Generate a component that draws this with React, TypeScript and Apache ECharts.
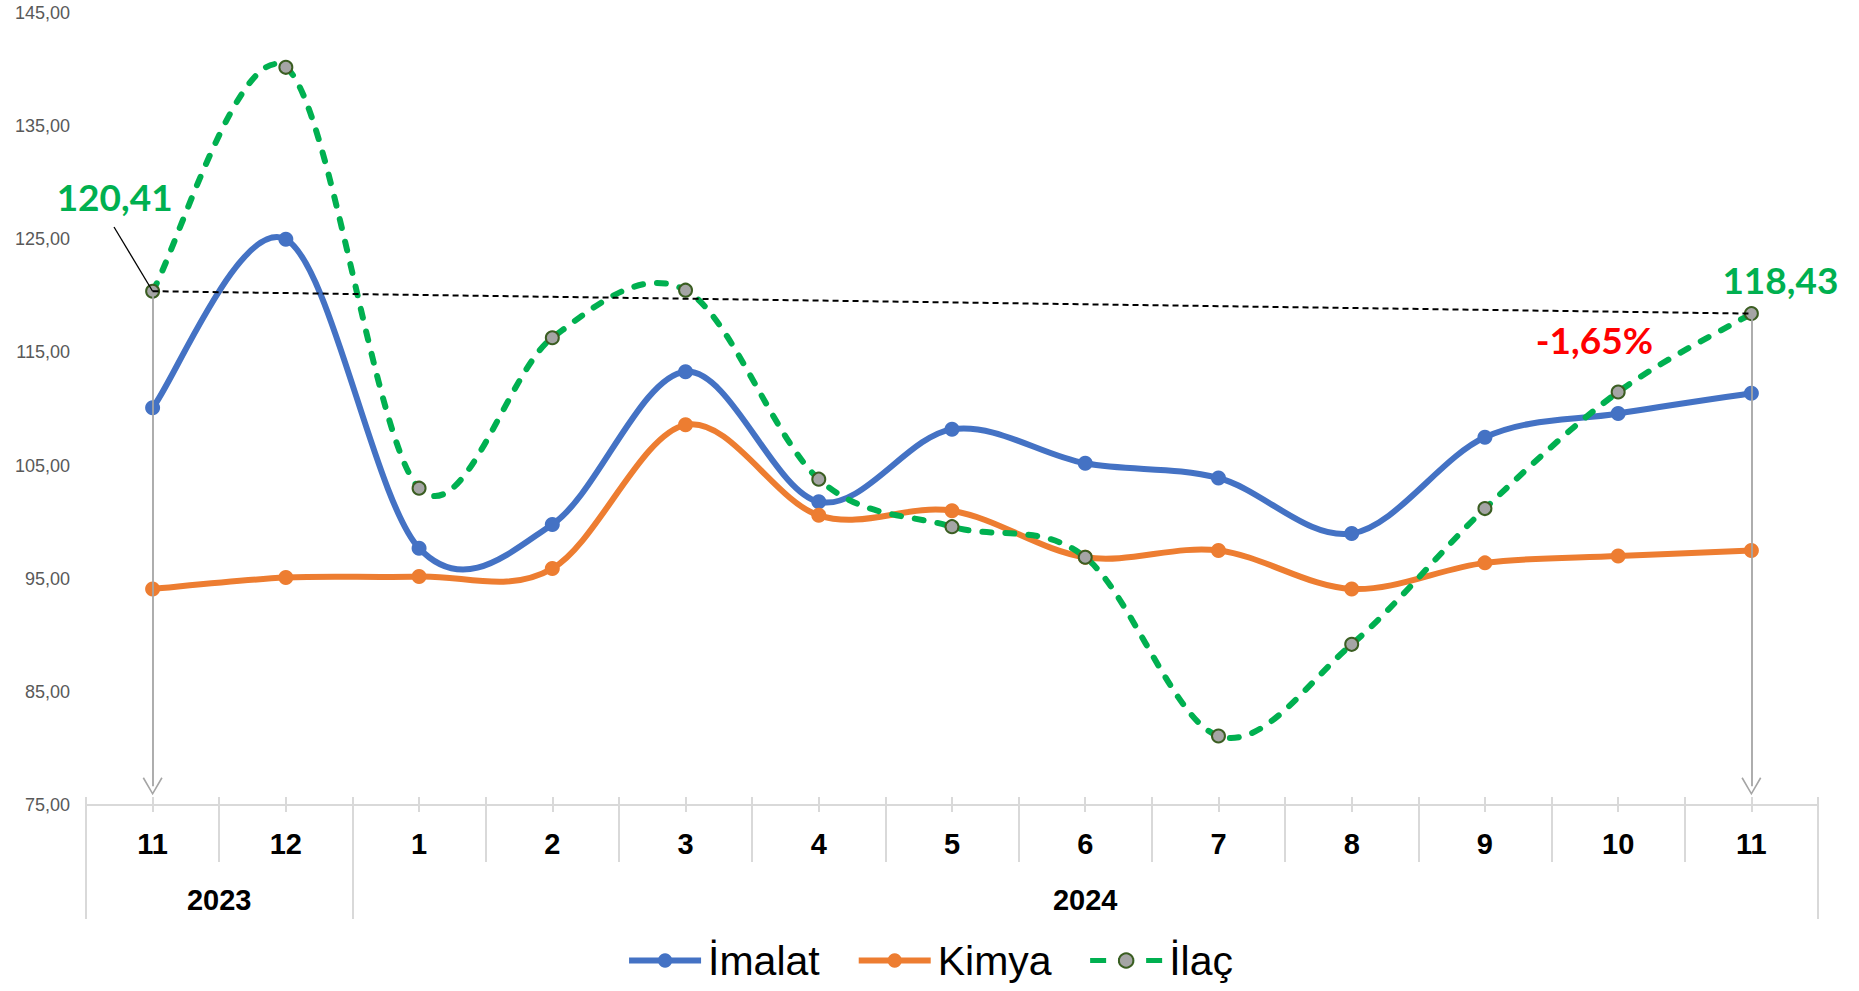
import React, { useEffect, useRef } from 'react';
import * as echarts from 'echarts';

// ---- data ----
const months = ['11', '12', '1', '2', '3', '4', '5', '6', '7', '8', '9', '10', '11'];
const yearGroups = [
  { year: '2023', from: 0, to: 1 },
  { year: '2024', from: 2, to: 12 },
];
const seriesNames = ['İmalat', 'Kimya', 'İlaç'];
const imalat = [110.1, 125.0, 97.7, 99.8, 113.3, 101.8, 108.2, 105.2, 103.9, 99.0, 107.5, 109.6, 111.4];
const kimya = [94.1, 95.1, 95.2, 95.9, 108.6, 100.6, 101.0, 96.9, 97.5, 94.1, 96.4, 97.0, 97.5];
const ilac = [120.41, 140.2, 103.0, 116.3, 120.5, 103.8, 99.6, 96.9, 81.1, 89.2, 101.2, 111.5, 118.43];
const yMin = 75;
const yMax = 145;
const yStep = 10;
const arrowEnd = 76.65;
const changeLabel = '-1,65%';

const fmt = (v: number) => v.toFixed(2).replace('.', ',');

const chevron = 'path://M50,0 L100,92 L93,97 L50,17 L7,97 L0,92 Z';

const FONT = 'Liberation Sans, Arial, sans-serif';
const GRID_LINE = '#D9D9D9';
const BLUE = '#4472C4';
const ORANGE = '#ED7D31';
const GREEN = '#00B050';

// Excel-like smoothed line (Catmull-Rom as cubic Bezier)
const smoothPath = (pts: number[][]) => {
  let d = `M${pts[0][0]},${pts[0][1]}`;
  for (let i = 0; i < pts.length - 1; i++) {
    const p0 = pts[i - 1] || pts[i];
    const p1 = pts[i];
    const p2 = pts[i + 1];
    const p3 = pts[i + 2] || p2;
    const c1x = p1[0] + (p2[0] - p0[0]) / 6;
    const c1y = p1[1] + (p2[1] - p0[1]) / 6;
    const c2x = p2[0] - (p3[0] - p1[0]) / 6;
    const c2y = p2[1] - (p3[1] - p1[1]) / 6;
    d += ` C${c1x},${c1y} ${c2x},${c2y} ${p2[0]},${p2[1]}`;
  }
  return d;
};

const curveSeries = (values: number[], style: any) => ({
  type: 'custom',
  coordinateSystem: 'cartesian2d',
  xAxisIndex: 0,
  yAxisIndex: 0,
  silent: true,
  z: 2,
  data: values.map((v, i) => [i, v]),
  renderItem: (params: any, api: any) => {
    if (params.dataIndex !== 0) return null;
    const pts = values.map((v, i) => api.coord([i, v]));
    return {
      type: 'path',
      shape: { pathData: smoothPath(pts) },
      style: { fill: 'none', ...style },
    };
  },
});

export default function App() {
  const ref = useRef<HTMLDivElement>(null);

  useEffect(() => {
    document.body.style.margin = '0';
    document.body.style.overflow = 'hidden';
    const chart = echarts.init(ref.current!, null, { renderer: 'svg' });

    const n = months.length;
    const centers = months.map((_, i) => i);
    const halfSteps: number[] = [];
    for (let i = 0; i <= n * 2; i++) halfSteps.push(-0.5 + i * 0.5);
    const yearCenters = yearGroups.map((g) => (g.from + g.to) / 2);
    const yearBounds = [-0.5, ...yearGroups.map((g) => g.to + 0.5)];

    const option: any = {
      animation: false,
      backgroundColor: '#ffffff',
      grid: { left: 86, right: 41, top: 13, bottom: 186, containLabel: false },
      legend: {
        data: [
          { name: seriesNames[0], lineStyle: { color: BLUE, width: 6, opacity: 1, type: 'solid' } },
          { name: seriesNames[1], lineStyle: { color: ORANGE, width: 6, opacity: 1, type: 'solid' } },
          { name: seriesNames[2], lineStyle: { color: GREEN, width: 5, opacity: 1, type: [16, 12] } },
        ],
        left: 'center',
        top: 935,
        itemWidth: 72,
        itemHeight: 18,
        itemGap: 36,
        textStyle: { fontSize: 41, color: '#000000', fontFamily: FONT, padding: [0, 0, 0, 2] },
      },
      xAxis: [
        {
          type: 'category',
          data: months,
          position: 'bottom',
          boundaryGap: true,
          axisLine: { show: true, lineStyle: { color: GRID_LINE, width: 2 } },
          axisTick: { show: true, interval: 0, length: 57, lineStyle: { color: GRID_LINE, width: 2 } },
          axisLabel: {
            interval: 0,
            margin: 24,
            color: '#000000',
            fontSize: 29,
            fontWeight: 'bold',
            fontFamily: FONT,
          },
          splitLine: { show: false },
        },
        {
          type: 'value',
          position: 'bottom',
          min: -0.5,
          max: n - 0.5,
          axisLine: { show: false },
          axisTick: {
            show: true,
            customValues: yearBounds,
            length: 114,
            lineStyle: { color: GRID_LINE, width: 2 },
          },
          axisLabel: {
            customValues: yearCenters,
            margin: 80,
            color: '#000000',
            fontSize: 29,
            fontWeight: 'bold',
            fontFamily: FONT,
            formatter: (v: number) => {
              const g = yearGroups.find((yg) => (yg.from + yg.to) / 2 === v);
              return g ? g.year : '';
            },
          },
          splitLine: { show: false },
        },
        {
          type: 'value',
          position: 'bottom',
          min: -0.5,
          max: n - 0.5,
          axisLine: { show: false },
          axisTick: {
            show: true,
            inside: true,
            customValues: halfSteps,
            length: 8,
            lineStyle: { color: GRID_LINE, width: 2 },
          },
          axisLabel: { show: false },
          splitLine: { show: false },
        },
        {
          type: 'value',
          position: 'bottom',
          min: -0.5,
          max: n - 0.5,
          axisLine: { show: false },
          axisTick: {
            show: true,
            customValues: centers,
            length: 7,
            lineStyle: { color: GRID_LINE, width: 2 },
          },
          axisLabel: { show: false },
          splitLine: { show: false },
        },
      ],
      yAxis: {
        type: 'value',
        min: yMin,
        max: yMax,
        interval: yStep,
        axisLine: { show: false },
        axisTick: { show: false },
        splitLine: { show: false },
        axisLabel: {
          margin: 16,
          color: '#595959',
          fontSize: 18,
          fontFamily: FONT,
          formatter: (v: number) => fmt(v),
        },
      },
      series: [
        curveSeries(imalat, { stroke: BLUE, lineWidth: 6 }),
        curveSeries(kimya, { stroke: ORANGE, lineWidth: 6 }),
        curveSeries(ilac, { stroke: GREEN, lineWidth: 6, lineDash: [9, 14], lineCap: 'round' }),
        {
          name: 'arrows',
          type: 'line',
          data: [],
          z: 1,
          markLine: {
            silent: true,
            symbol: ['none', chevron],
            symbolSize: [20, 18],
            label: { show: false },
            lineStyle: { color: '#A5A5A5', width: 1.8, type: 'solid' },
            data: [
              [{ coord: [0, ilac[0]] }, { coord: [0, arrowEnd] }],
              [{ coord: [n - 1, ilac[n - 1]] }, { coord: [n - 1, arrowEnd] }],
            ],
          },
        },
        {
          name: seriesNames[0],
          type: 'line',
          data: imalat,
          symbol: 'circle',
          symbolSize: 15,
          lineStyle: { color: BLUE, width: 6, opacity: 0 },
          itemStyle: { color: BLUE },
          z: 3,
        },
        {
          name: seriesNames[1],
          type: 'line',
          data: kimya,
          symbol: 'circle',
          symbolSize: 15,
          lineStyle: { color: ORANGE, width: 6, opacity: 0 },
          itemStyle: { color: ORANGE },
          z: 3,
        },
        {
          name: seriesNames[2],
          type: 'line',
          data: ilac,
          symbol: 'circle',
          symbolSize: 13,
          lineStyle: { color: GREEN, width: 5, opacity: 0 },
          itemStyle: { color: '#A5A5A5', borderColor: '#3B5E22', borderWidth: 2 },
          z: 4,
          markLine: {
            silent: true,
            symbol: ['none', 'none'],
            label: { show: false },
            lineStyle: { color: '#000000', width: 2, type: [6, 4], opacity: 1 },
            data: [
              [{ coord: [0, ilac[0]] }, { coord: [n - 1, ilac[n - 1]] }],
              [
                { x: 114, y: 227, lineStyle: { type: 'solid', width: 1.3, color: '#000000' } },
                { coord: [0, ilac[0]] },
              ],
            ],
          },
          markPoint: {
            silent: true,
            symbol: 'circle',
            symbolSize: 0,
            label: {
              show: true,
              position: 'inside',
              fontFamily: 'Lato, Liberation Sans, sans-serif',
              fontWeight: 'bold',
              fontSize: 37,
            },
            data: [
              {
                coord: [0, ilac[0]],
                label: { formatter: fmt(ilac[0]), color: GREEN, offset: [-38, -95] },
              },
              {
                coord: [n - 1, ilac[n - 1]],
                label: { formatter: fmt(ilac[n - 1]), color: GREEN, offset: [29, -34] },
              },
              {
                coord: [n - 1, ilac[n - 1]],
                label: { formatter: changeLabel, color: '#FF0000', offset: [-157, 26] },
              },
            ],
          },
        },
      ],
    };

    chart.setOption(option);
    return () => chart.dispose();
  }, []);

  return <div ref={ref} style={{ width: 1859, height: 991 }} />;
}
